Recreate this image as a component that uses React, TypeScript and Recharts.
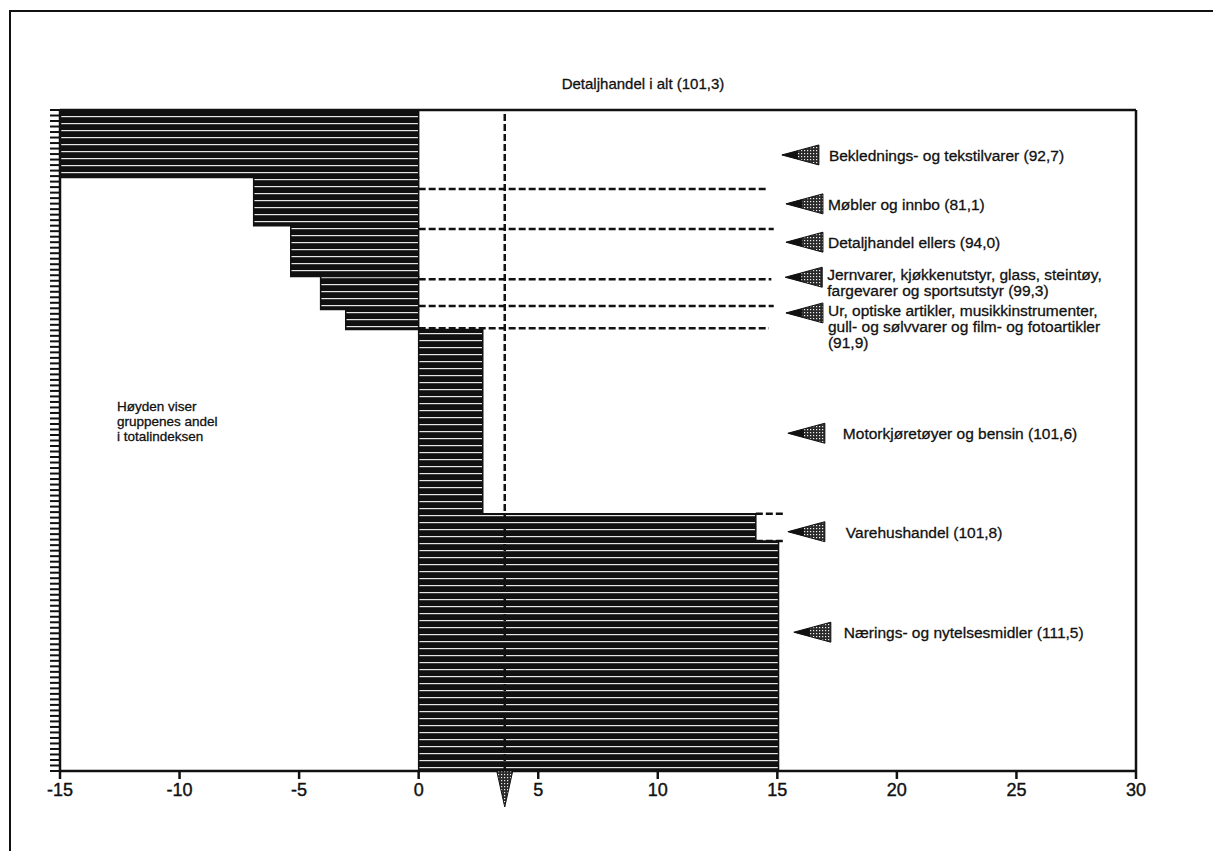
import React from 'react';
import {
  ComposedChart,
  XAxis,
  YAxis,
  ReferenceArea,
  ReferenceLine,
  ReferenceDot,
  Scatter,
} from 'recharts';

// ---- Data ----
const categories = [
  'Beklednings- og tekstilvarer',
  'Møbler og innbo',
  'Detaljhandel ellers',
  'Jernvarer, kjøkkenutstyr, glass, steintøy, fargevarer og sportsutstyr',
  'Ur, optiske artikler, musikkinstrumenter, gull- og sølvvarer og film- og fotoartikler',
  'Motorkjøretøyer og bensin',
  'Varehushandel',
  'Nærings- og nytelsesmidler',
];
const indexValues = [92.7, 81.1, 94.0, 99.3, 91.9, 101.6, 101.8, 111.5];
// share of each group in the total index (bar height), percent
const weightShares = [10.2, 7.3, 7.7, 5.0, 3.0, 27.9, 4.1, 34.8];
// bar length on the x scale
const barValues = [-15, -6.9, -5.35, -4.1, -3.05, 2.68, 14.1, 15.05];

const totalTitle = 'Detaljhandel i alt (101,3)';
const totalValue = 3.6;

const labelLines = [
  ['Beklednings- og tekstilvarer (92,7)'],
  ['Møbler og innbo (81,1)'],
  ['Detaljhandel ellers (94,0)'],
  ['Jernvarer, kjøkkenutstyr, glass, steintøy,', 'fargevarer  og sportsutstyr  (99,3)'],
  ['Ur, optiske artikler, musikkinstrumenter,', 'gull- og sølvvarer og film- og fotoartikler', '(91,9)'],
  ['Motorkjøretøyer og bensin (101,6)'],
  ['Varehushandel (101,8)'],
  ['Nærings- og nytelsesmidler (111,5)'],
];

// arrow anchors (data units)
const arrowTipX = [15.19, 15.36, 15.36, 15.33, 15.36, 15.44, 15.44, 15.69];
const arrowY = [6.8, 14.2, 20.0, 25.3, 30.7, 48.9, 63.8, 79.0];

// dashed guide lines
const dashedLevels = [11.95, 18.0, 25.6, 29.65, 33.0];
const dashedEnds = [14.6, 14.85, 14.75, 14.85, 14.65];
const shortDashedLevels = [61.1, 65.2];
const shortDashedFrom = 14.1;
const shortDashedTo = 15.27;

const xTicks = [-15, -10, -5, 0, 5, 10, 15, 20, 25, 30];
const noteLines = ['Høyden viser', 'gruppenes andel', 'i totalindeksen'];

// ---- layout helpers (styles only) ----
const labelOffsetPx = [47, 42, 42, 42, 42, 55, 58, 50];
const yTickCount = 120;
const yTicks = Array.from({ length: yTickCount + 1 }, (_, i) => (i * 100) / yTickCount);

const starts: number[] = [];
weightShares.reduce((acc, s) => {
  starts.push(acc);
  return acc + s;
}, 0);

const arrowData = categories.map((c, i) => ({
  name: c,
  index: indexValues[i],
  x: arrowTipX[i],
  y: arrowY[i],
  i,
}));

const FONT = '"Liberation Sans", Arial, Helvetica, sans-serif';
const INK = '#111';

const ArrowLabel = (props: any) => {
  const { cx, cy, payload } = props;
  if (cx == null || cy == null || !payload) return <g />;
  const i = payload.i;
  const lines = labelLines[i];
  const tx = cx + labelOffsetPx[i];
  const startY = cy - (lines.length > 1 ? 3 : 0);
  return (
    <g>
      <polygon
        points={`${cx},${cy} ${cx + 37},${cy - 10} ${cx + 37},${cy + 10}`}
        fill="url(#stipple)"
        stroke={INK}
        strokeWidth={1}
      />
      <polygon
        points={`${cx},${cy} ${cx + 16},${cy - 4.3} ${cx + 16},${cy + 4.3}`}
        fill={INK}
      />
      <text
        x={tx}
        y={startY}
        fontSize={15.5}
        fontFamily={FONT}
        fill={INK}
        stroke={INK}
        strokeWidth={0.3}
        dominantBaseline="central"
      >
        {lines.map((l, k) => (
          <tspan key={k} x={tx} y={startY + k * 16}>
            {l}
          </tspan>
        ))}
      </text>
    </g>
  );
};

const DownTriangle = (props: any) => {
  const { cx, cy } = props;
  if (cx == null || cy == null) return <g />;
  return (
    <polygon
      points={`${cx - 8},${cy} ${cx + 8},${cy} ${cx},${cy + 36}`}
      fill="url(#stipple)"
      stroke={INK}
      strokeWidth={1}
    />
  );
};

export default function App() {
  return (
    <div style={{ position: 'relative', width: 1205, height: 843, background: '#fff' }}>
      <div
        style={{
          position: 'absolute',
          left: 1,
          top: 2,
          width: 1211,
          height: 848,
          borderLeft: `2px solid ${INK}`,
          borderTop: `2px solid ${INK}`,
          boxSizing: 'border-box',
        }}
      />
      <ComposedChart
        width={1205}
        height={843}
        margin={{ top: 102, right: 77, bottom: 40, left: 40 }}
        style={{ position: 'absolute', left: 0, top: 0, fontFamily: FONT }}
      >
        <defs>
          <pattern id="stripes" width="8" height="7" patternUnits="userSpaceOnUse">
            <rect width="8" height="7" fill="#101010" />
            <rect x="0" y="3" width="8" height="1.2" fill="#e6e6e6" />
          </pattern>
          <pattern id="stipple" width="3" height="3" patternUnits="userSpaceOnUse">
            <rect width="3" height="3" fill="#2a2a2a" />
            <rect x="1" y="1" width="1.2" height="1.2" fill="#f0f0f0" />
          </pattern>
        </defs>
        <XAxis
          type="number"
          dataKey="x"
          domain={[-15, 30]}
          ticks={xTicks}
          interval={0}
          allowDataOverflow
          height={40}
          tickSize={8}
          tickMargin={4}
          axisLine={{ stroke: INK, strokeWidth: 2.5 }}
          tickLine={{ stroke: INK, strokeWidth: 2.5 }}
          tick={{ fontSize: 18, fill: INK, fontFamily: FONT, stroke: INK, strokeWidth: 0.4 }}
        />
        <YAxis
          type="number"
          dataKey="y"
          domain={[0, 100]}
          reversed
          ticks={yTicks}
          interval={0}
          allowDataOverflow
          width={12}
          tickSize={10}
          tickFormatter={() => ''}
          axisLine={{ stroke: INK, strokeWidth: 2.5 }}
          tickLine={{ stroke: INK, strokeWidth: 2 }}
        />
        {barValues.map((v, i) => (
          <ReferenceArea
            key={`bar-${i}`}
            x1={Math.min(0, v)}
            x2={Math.max(0, v)}
            y1={starts[i]}
            y2={starts[i] + weightShares[i]}
            fill="url(#stripes)"
            fillOpacity={1}
            stroke={INK}
            strokeWidth={1.5}
          />
        ))}
        {dashedLevels.map((y, i) => (
          <ReferenceLine
            key={`dl-${i}`}
            segment={[
              { x: 0, y },
              { x: dashedEnds[i], y },
            ]}
            stroke={INK}
            strokeWidth={2.5}
            strokeDasharray="7 3"
          />
        ))}
        {shortDashedLevels.map((y, i) => (
          <ReferenceLine
            key={`sdl-${i}`}
            segment={[
              { x: shortDashedFrom, y },
              { x: shortDashedTo, y },
            ]}
            stroke={INK}
            strokeWidth={2.5}
            strokeDasharray="7 3"
          />
        ))}
        <ReferenceLine x={totalValue} stroke={INK} strokeWidth={2.5} strokeDasharray="7 3" />
        <ReferenceLine y={0} stroke={INK} strokeWidth={2.5} />
        <ReferenceLine x={30} stroke={INK} strokeWidth={2.5} />
        <ReferenceDot x={totalValue} y={100} r={1} shape={DownTriangle} />
        <Scatter data={arrowData} shape={ArrowLabel} isAnimationActive={false} />
        <text
          x={635}
          y={75}
          textAnchor="middle"
          fontSize={15}
          fontFamily={FONT}
          fill={INK}
          stroke={INK}
          strokeWidth={0.3}
          dominantBaseline="central"
        >
          {totalTitle}
        </text>
        <text
          x={109}
          y={398}
          fontSize={13.5}
          fontFamily={FONT}
          fill={INK}
          stroke={INK}
          strokeWidth={0.3}
          dominantBaseline="central"
        >
          {noteLines.map((l, k) => (
            <tspan key={k} x={109} y={398 + k * 15}>
              {l}
            </tspan>
          ))}
        </text>
      </ComposedChart>
    </div>
  );
}
